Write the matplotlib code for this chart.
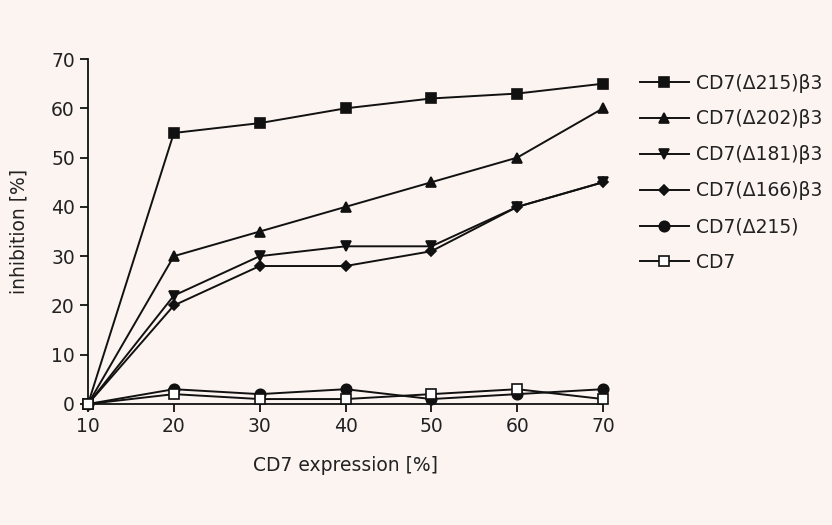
import matplotlib
matplotlib.use("Agg")
import matplotlib.pyplot as plt

x = [10, 20, 30, 40, 50, 60, 70]
labels = ["CD7(\u0394215)\u03b23", "CD7(\u0394202)\u03b23", "CD7(\u0394181)\u03b23",
          "CD7(\u0394166)\u03b23", "CD7(\u0394215)", "CD7"]
s_215b3 = [0, 55, 57, 60, 62, 63, 65]
s_202b3 = [0, 30, 35, 40, 45, 50, 60]
s_181b3 = [0, 22, 30, 32, 32, 40, 45]
s_166b3 = [0, 20, 28, 28, 31, 40, 45]
s_215 = [0, 3, 2, 3, 1, 2, 3]
s_cd7 = [0, 2, 1, 1, 2, 3, 1]
series = [s_215b3, s_202b3, s_181b3, s_166b3, s_215, s_cd7]
markers = ["s", "^", "v", "D", "o", "s"]
msizes = [7.5, 7.5, 7.5, 5.5, 7.5, 7.5]
faces = ["#111111", "#111111", "#111111", "#111111", "#111111", "white"]

bg = "#fcf4f1"
plt.rcParams['font.family'] = ['DejaVu Sans']
fig = plt.figure(figsize=(8.32, 5.25), dpi=100, facecolor=bg)
ax = fig.add_axes([0.1058, 0.2305, 0.619, 0.657], facecolor=bg)

handles = []
for ys, m, ms, fc, lab in zip(series, markers, msizes, faces, labels):
    ln, = ax.plot(x, ys, color="#111111", lw=1.4, marker=m, markersize=ms,
                  markerfacecolor=fc, markeredgecolor="#111111", markeredgewidth=1.2,
                  clip_on=False, zorder=3, label=lab)
    handles.append(ln)

ax.set_xlim(10, 70)
ax.set_ylim(0, 70)
ax.set_xticks(x)
ax.set_yticks(range(0, 71, 10))
for s in ["top", "right"]:
    ax.spines[s].set_visible(False)
for s in ["left", "bottom"]:
    ax.spines[s].set_linewidth(1.3)
    ax.spines[s].set_color("#111111")
ax.tick_params(direction="out", length=6, width=1.3, labelsize=13.5, colors="#111111",
               labelcolor="#222222")
ax.set_xlabel("CD7 expression [%]", fontsize=13.5, color="#222222", labelpad=14)
ax.set_ylabel("inhibition [%]", fontsize=13.5, color="#222222", labelpad=16)

leg = fig.legend(handles=handles, labels=labels, loc="upper left",
                 bbox_to_anchor=(0.749, 0.892), frameon=False, fontsize=13.5,
                 labelspacing=0.9, handlelength=2.6, handletextpad=0.4,
                 labelcolor="#222222")

fig.savefig("out.png", dpi=100, facecolor=bg)
